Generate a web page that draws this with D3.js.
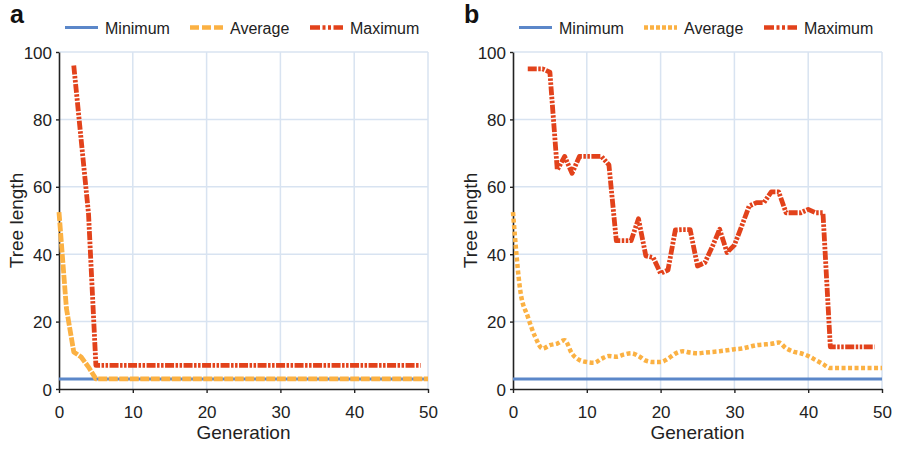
<!DOCTYPE html>
<html>
<head>
<meta charset="utf-8">
<script src="https://cdn.jsdelivr.net/npm/d3@7"></script>
<style>
  body { margin: 0; background: #fff; }
  svg { display: block; font-family: "Liberation Sans", Arial, sans-serif; }
</style>
</head>
<body>
<svg width="899" height="449"></svg>
<script>
// values, index = generation
var aMinimum = [3,3,3,3,3,3,3,3,3,3,3,3,3,3,3,3,3,3,3,3,3,3,3,3,3,3,3,3,3,3,3,3,3,3,3,3,3,3,3,3,3,3,3,3,3,3,3,3,3,3,3];
var aAverage = [52.5,24,11,9.5,6.5,3,3,3,3,3,3,3,3,3,3,3,3,3,3,3,3,3,3,3,3,3,3,3,3,3,3,3,3,3,3,3,3,3,3,3,3,3,3,3,3,3,3,3,3,3,3];
var aMaximum = [null,null,96,74,52,7,7,7,7,7,7,7,7,7,7,7,7,7,7,7,7,7,7,7,7,7,7,7,7,7,7,7,7,7,7,7,7,7,7,7,7,7,7,7,7,7,7,7,7,7];

var bMinimum = [3,3,3,3,3,3,3,3,3,3,3,3,3,3,3,3,3,3,3,3,3,3,3,3,3,3,3,3,3,3,3,3,3,3,3,3,3,3,3,3,3,3,3,3,3,3,3,3,3,3,3];
var bAverage = [52.5,29,21.5,15.5,12,13,13.5,14.5,10.5,8.6,8,7.8,9,9.8,9.6,10.2,10.6,9.8,8.4,8,8,9,10.5,11.2,10.8,10.6,10.8,11,11.2,11.5,11.8,12,12.5,13,13.2,13.4,13.8,12.1,11.1,10.6,9.8,8.6,7.4,6.2,6.2,6.2,6.2,6.2,6.2,6.2,6.2];
var bMaximum = [null,null,95,95,95,94,65,69,64,69,69,69,69,66.5,44,44,44,50.5,39.5,39,34.3,35.3,47.2,47.3,47.3,36.5,37.5,42.2,47.4,40.5,42.7,48.4,54.3,55.3,55.3,58.5,58.5,52.3,52.3,52.3,53.3,52.3,52.3,12.5,12.5,12.5,12.5,12.5,12.5,12.5];

var seriesNames = ["Minimum", "Average", "Maximum"];
var xTicks = [0, 10, 20, 30, 40, 50];
var yTicks = [0, 20, 40, 60, 80, 100];

var svg = d3.select("svg");

var colors = { Minimum: "#5b87c9", Average: "#fbb143", Maximum: "#e2421b" };
var gridColor = "#d8e3f1";

function drawPanel(opts) {
    var left = opts.left, right = opts.left + 369, top = 52, bottom = 389;
    var x = d3.scaleLinear().domain([0, 50]).range([left, right]);
    var y = d3.scaleLinear().domain([0, 100]).range([bottom, top]);
    var g = svg.append("g");

    // grid
    g.append("g").selectAll("line")
        .data(xTicks.filter(d => d > 0))
        .enter().append("line")
        .attr("x1", d => x(d)).attr("x2", d => x(d))
        .attr("y1", top).attr("y2", bottom)
        .attr("stroke", gridColor).attr("stroke-width", 1.5);
    g.append("g").selectAll("line")
        .data(yTicks.filter(d => d > 0))
        .enter().append("line")
        .attr("x1", left).attr("x2", right)
        .attr("y1", d => y(d)).attr("y2", d => y(d))
        .attr("stroke", gridColor).attr("stroke-width", 1.5);

    // axes
    var xAxis = g.append("g")
        .attr("transform", "translate(0," + bottom + ")")
        .call(d3.axisBottom(x).tickValues(xTicks).tickSize(4).tickPadding(13).tickSizeOuter(0));
    var yAxis = g.append("g")
        .attr("transform", "translate(" + left + ",0)")
        .call(d3.axisLeft(y).tickValues(yTicks).tickSize(3).tickPadding(4).tickSizeOuter(0));
    [xAxis, yAxis].forEach(a => {
        a.select(".domain").attr("stroke", "#222").attr("stroke-width", 1.6);
        a.selectAll(".tick line").attr("stroke", "#222").attr("stroke-width", 1.4);
        a.selectAll("text").attr("font-size", "17px").attr("fill", "#222")
            .attr("font-family", "Liberation Sans, Arial, sans-serif");
    });
    yAxis.selectAll("text").attr("dy", "0.36em");

    // axis titles
    g.append("text")
        .attr("x", (left + right) / 2).attr("y", 439)
        .attr("text-anchor", "middle").attr("font-size", "19px").attr("fill", "#222")
        .text("Generation");
    g.append("text")
        .attr("transform", "translate(" + (left - 36) + "," + ((top + bottom) / 2) + ") rotate(-90)")
        .attr("text-anchor", "middle").attr("font-size", "19px").attr("fill", "#222")
        .text("Tree length");

    // panel letter
    g.append("text")
        .attr("x", left - 49).attr("y", 23)
        .attr("font-size", "25px").attr("font-weight", "bold").attr("fill", "#111")
        .text(opts.letter);

    // lines
    var data = { Minimum: opts.min, Average: opts.avg, Maximum: opts.max };
    seriesNames.forEach(name => {
        var line = d3.line()
            .defined(d => d != null)
            .x((d, i) => x(i))
            .y(d => y(d))
            .curve(name === "Average" && opts.smoothAvg ? d3.curveMonotoneX : d3.curveLinear);
        g.append("path")
            .datum(data[name])
            .attr("d", line)
            .attr("fill", "none")
            .attr("stroke", colors[name])
            .attr("stroke-width", opts.widths[name])
            .attr("stroke-linejoin", "round")
            .attr("stroke-dasharray", opts.dashes[name]);
    });

    // legend
    var legX = [6, 131, 251];
    seriesNames.forEach((name, i) => {
        var lx = left + legX[i];
        g.append("line")
            .attr("x1", lx).attr("x2", lx + 33)
            .attr("y1", 27.5).attr("y2", 27.5)
            .attr("stroke", colors[name])
            .attr("stroke-width", name === "Minimum" ? 3 : 4.5)
            .attr("stroke-dasharray", opts.legendDashes[name]);
        g.append("text")
            .attr("x", lx + 40).attr("y", 34)
            .attr("font-size", "16px").attr("fill", "#222")
            .text(name);
    });
}

drawPanel({
    left: 59, letter: "a",
    min: aMinimum, avg: aAverage, max: aMaximum,
    smoothAvg: false,
    widths: { Minimum: 3, Average: 4.8, Maximum: 4.8 },
    dashes: { Minimum: null, Average: "9,1.5", Maximum: "9,1.5,2.5,1.5,2.5,1.5" },
    legendDashes: { Minimum: null, Average: "9,3", Maximum: "10,2.5,3,2.5,3,2.5" }
});

drawPanel({
    left: 513, letter: "b",
    min: bMinimum, avg: bAverage, max: bMaximum,
    smoothAvg: true,
    widths: { Minimum: 3, Average: 4.5, Maximum: 4.8 },
    dashes: { Minimum: null, Average: "4,2.5", Maximum: "9,1.5,2.5,1.5,2.5,1.5" },
    legendDashes: { Minimum: null, Average: "4,2", Maximum: "10,2.5,3,2.5,3,2.5" }
});
</script>
</body>
</html>
